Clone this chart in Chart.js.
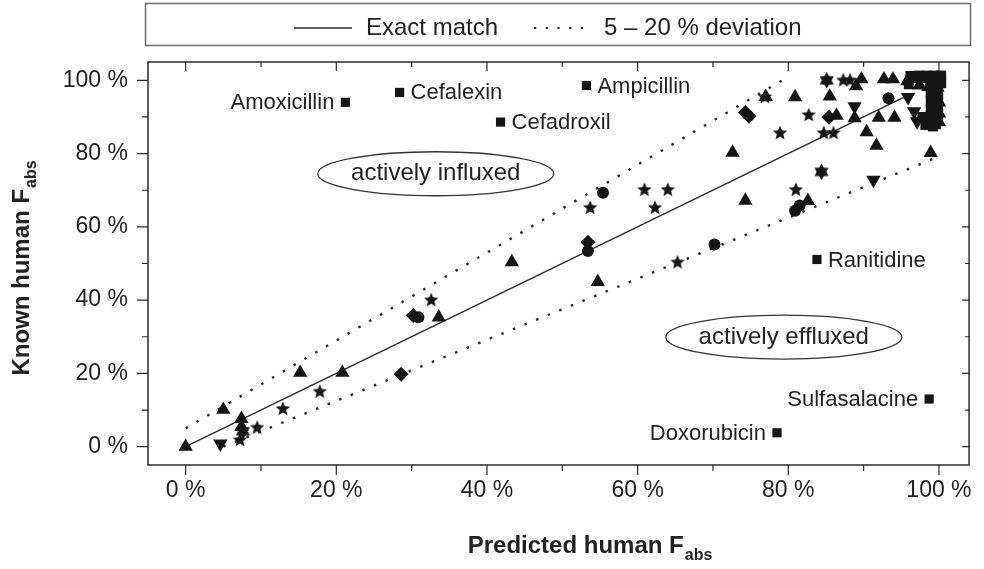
<!DOCTYPE html>
<html>
<head>
<meta charset="utf-8">
<script src="https://cdn.jsdelivr.net/npm/chart.js@4.4.1/dist/chart.umd.min.js"></script>
<style>
  html, body { margin: 0; padding: 0; background: #fff; }
  #wrap { width: 984px; height: 569px; }
</style>
</head>
<body>
<div id="wrap"><canvas id="c" width="984" height="569"></canvas></div>
<script>
const FONT = '"Liberation Sans", Arial, Helvetica, sans-serif';
const INK = '#151515';
const TEXT = '#222222';

// Predicted (x) vs known (y) human Fabs, in %, grouped by marker shape
const triUpX = [0, 5.0, 7.4, 7.4, 15.2, 20.8, 33.6, 43.3, 54.7, 72.6, 74.3, 77.0, 80.9, 82.6, 85.5, 86.4, 88.8, 90.4, 91.7, 92.0, 94.1, 98.9, 89.0, 89.7, 92.7, 93.9,
                95.8, 96.8, 98.0, 99.2, 100, 99.8, 98.6, 97.4, 99.5, 100, 99.3, 100, 99.0, 100, 98.5];
const triUpY = [0, 10.1, 7.6, 5.4, 20.2, 20.2, 35.3, 50.4, 45.0, 80.3, 67.2, 95.5, 95.4, 67.1, 95.6, 90.4, 89.7, 85.9, 82.2, 89.8, 89.8, 80.2, 98.4, 100.3, 100.3, 100.3,
                99.8, 100.3, 100.3, 100.3, 100, 98.0, 98.2, 98.6, 96.0, 94.0, 92.8, 91.0, 89.8, 88.6, 88.2];

const triDownX = [4.6, 88.8, 91.3, 95.9, 96.7, 97.1];
const triDownY = [0.8, 92.9, 72.8, 95.4, 91.5, 88.8];

const starX = [7.2, 9.5, 12.9, 17.8, 32.6, 53.7, 60.9, 62.3, 64.0, 65.3, 76.9, 78.9, 81.0, 82.7, 84.7, 86.0, 87.3, 88.2];
const starY = [1.8, 5.2, 10.3, 15.0, 40.0, 65.2, 70.1, 65.2, 70.1, 50.3, 95.4, 85.6, 70.1, 90.5, 85.6, 85.6, 100.0, 100.0];

const hexX = [7.6, 84.4, 85.1];
const hexY = [4.2, 75.0, 100.0];

const diamondX = [28.6, 30.2, 53.4, 74.3, 74.8, 85.4];
const diamondY = [19.8, 35.8, 55.8, 91.2, 90.2, 89.9];

const circleX = [30.9, 53.4, 55.4, 70.2, 80.9, 81.5, 93.3];
const circleY = [35.3, 53.4, 69.3, 55.2, 64.4, 65.8, 95.1];

// Unnamed squares in the high-absorption group
const squareX = [96.2, 97.3, 98.4, 99.4, 100.3, 96.0, 98.9, 99.9, 98.9, 99.9, 98.9, 99.9, 98.9, 99.9, 98.9, 97.8, 99.6, 100.3, 98.2, 99.2];
const squareY = [101.2, 101.3, 101.3, 101.3, 101.3, 98.9, 99.0, 97.2, 96.6, 95.2, 94.3, 93.0, 92.0, 90.6, 90.2, 90.0, 88.0, 99.2, 87.8, 87.4];

// Named outliers (squares) and the side their label sits on
const drugNames = ['Amoxicillin', 'Cefalexin', 'Cefadroxil', 'Ampicillin', 'Ranitidine', 'Sulfasalacine', 'Doxorubicin'];
const drugX = [21.2, 28.4, 41.8, 53.2, 83.8, 98.7, 78.5];
const drugY = [94.0, 96.7, 88.6, 98.6, 51.1, 13.0, 3.8];
const drugSide = ['left', 'right', 'right', 'right', 'right', 'left', 'left'];

// Reference lines
const exactX = [0, 96];
const exactY = [0, 96];
const upperX = [0, 79.2];
const upperY = [5, 100];
const lowerX = [5, 100];
const lowerY = [0, 79.2];

// Axis ticks
const tickValues = [0, 10, 20, 30, 40, 50, 60, 70, 80, 90, 100];
const labelledTicks = [0, 20, 40, 60, 80, 100];

// Region annotations (centre in data units)
const regionNames = ['actively influxed', 'actively effluxed'];
const regionX = [33.2, 79.4];
const regionY = [74.5, 29.9];

const legendNames = ['Exact match', '5 \u2013 20 % deviation'];

const pts = (xs, ys) => xs.map((x, i) => ({ x, y: ys[i] }));

function starGlyph(points, outer, inner) {
  const size = Math.ceil(outer * 2 + 2);
  const c = document.createElement('canvas');
  c.width = size; c.height = size;
  const g = c.getContext('2d');
  g.fillStyle = INK;
  g.beginPath();
  for (let i = 0; i < points * 2; i++) {
    const a = -Math.PI / 2 + i * Math.PI / points;
    const r = i % 2 ? inner : outer;
    const px = size / 2 + r * Math.cos(a), py = size / 2 + r * Math.sin(a);
    i ? g.lineTo(px, py) : g.moveTo(px, py);
  }
  g.closePath();
  g.fill();
  return c;
}
const star5 = starGlyph(5, 7.6, 3.4);
const star6 = starGlyph(6, 8.2, 4.8);

const marker = (data, style, radius, extra = {}) => Object.assign({
  type: 'scatter', data, pointStyle: style, pointRadius: radius, pointHoverRadius: radius,
  backgroundColor: INK, borderColor: INK, borderWidth: 0, order: 1
}, extra);

const refLine = (xs, ys, dash, width) => ({
  type: 'scatter', data: pts(xs, ys), showLine: true, pointRadius: 0,
  borderColor: '#2a2a2a', borderWidth: width, borderDash: dash, order: 5, fill: false
});

const frameTicks = {
  id: 'frameTicks',
  afterDraw(chart) {
    const { ctx, chartArea: a, scales: { x, y } } = chart;
    ctx.save();
    ctx.strokeStyle = '#2a2a2a';
    ctx.lineWidth = 1.5;
    ctx.strokeRect(a.left, a.top, a.right - a.left, a.bottom - a.top);
    ctx.lineWidth = 1.2;
    ctx.beginPath();
    tickValues.forEach(v => {
      const major = labelledTicks.includes(v);
      const px = x.getPixelForValue(v), py = y.getPixelForValue(v);
      // bottom & left: outward
      ctx.moveTo(px, a.bottom); ctx.lineTo(px, a.bottom + (major ? 10 : 6));
      ctx.moveTo(a.left, py); ctx.lineTo(a.left - (major ? 11 : 6), py);
      // top & right: inward
      ctx.moveTo(px, a.top); ctx.lineTo(px, a.top + (major ? 9 : 5));
      ctx.moveTo(a.right, py); ctx.lineTo(a.right - (major ? 7 : 4), py);
    });
    ctx.stroke();

    // axis titles with subscript
    const drawTitle = (main, sub, cx, cy, rot) => {
      ctx.save();
      ctx.translate(cx, cy);
      ctx.rotate(rot);
      ctx.fillStyle = TEXT;
      ctx.textBaseline = 'middle';
      ctx.font = 'bold 24px ' + FONT;
      const wm = ctx.measureText(main).width;
      ctx.font = 'bold 16px ' + FONT;
      const ws = ctx.measureText(sub).width;
      const start = -(wm + ws + 1) / 2;
      ctx.textAlign = 'left';
      ctx.font = 'bold 24px ' + FONT;
      ctx.fillText(main, start, 0);
      ctx.font = 'bold 16px ' + FONT;
      ctx.fillText(sub, start + wm + 1, 10);
      ctx.restore();
    };
    drawTitle('Predicted human F', 'abs', 590, 546, 0);
    drawTitle('Known human F', 'abs', 22, 268, -Math.PI / 2);

    // legend
    ctx.strokeStyle = '#6a6a6a';
    ctx.lineWidth = 1.5;
    ctx.strokeRect(145.5, 3.5, 825, 42);
    ctx.strokeStyle = '#2a2a2a';
    ctx.lineWidth = 1.3;
    ctx.beginPath(); ctx.moveTo(294, 28); ctx.lineTo(352, 28); ctx.stroke();
    ctx.lineWidth = 2.2;
    ctx.setLineDash([2.2, 9.5]);
    ctx.beginPath(); ctx.moveTo(534, 28); ctx.lineTo(592, 28); ctx.stroke();
    ctx.setLineDash([]);
    ctx.fillStyle = TEXT;
    ctx.font = '24px ' + FONT;
    ctx.textAlign = 'left';
    ctx.textBaseline = 'middle';
    ctx.fillText(legendNames[0], 366, 28);
    ctx.fillText(legendNames[1], 604, 28);
    ctx.restore();
  },
  afterDatasetsDraw(chart) {
    const { ctx, scales: { x, y } } = chart;
    ctx.save();
    // region ellipses
    ctx.strokeStyle = '#333';
    ctx.lineWidth = 1.3;
    ctx.fillStyle = TEXT;
    ctx.font = '24px ' + FONT;
    ctx.textAlign = 'center';
    ctx.textBaseline = 'middle';
    regionNames.forEach((name, i) => {
      const cx = x.getPixelForValue(regionX[i]), cy = y.getPixelForValue(regionY[i]);
      ctx.beginPath();
      ctx.ellipse(cx, cy, 118, 22, 0, 0, Math.PI * 2);
      ctx.stroke();
      ctx.fillText(name, cx, cy);
    });
    // drug labels, placed from the square markers
    const meta = chart.getDatasetMeta(chart.data.datasets.findIndex(d => d.label === 'drugs'));
    ctx.font = '22px ' + FONT;
    meta.data.forEach((pt, i) => {
      const left = drugSide[i] === 'left';
      ctx.textAlign = left ? 'right' : 'left';
      ctx.fillText(drugNames[i], pt.x + (left ? -11 : 11), pt.y + 1);
    });
    ctx.restore();
  }
};

new Chart(document.getElementById('c'), {
  type: 'scatter',
  data: {
    datasets: [
      refLine(exactX, exactY, [], 1.4),
      refLine(upperX, upperY, [2.5, 10], 2.4),
      refLine(lowerX, lowerY, [2.5, 10], 2.4),
      marker(pts(squareX, squareY), 'rect', 7),
      marker(pts(triUpX, triUpY), 'triangle', 8.3),
      marker(pts(triDownX, triDownY), 'triangle', 8.3, { rotation: 180 }),
      marker(pts(starX, starY), star5, 7),
      marker(pts(hexX, hexY), star6, 8),
      marker(pts(diamondX, diamondY), 'rectRot', 7.5),
      marker(pts(circleX, circleY), 'circle', 6),
      Object.assign(marker(pts(drugX, drugY), 'rect', 6.5), { label: 'drugs' })
    ]
  },
  options: {
    responsive: false,
    animation: false,
    devicePixelRatio: 1,
    layout: { padding: { top: 62, right: 12, left: 0, bottom: 0 } },
    plugins: { legend: { display: false }, tooltip: { enabled: false } },
    events: [],
    scales: {
      x: {
        type: 'linear', min: -5, max: 104,
        afterBuildTicks: s => { s.ticks = tickValues.map(v => ({ value: v })); },
        afterFit: s => { s.height = 104; },
        grid: { display: false, drawTicks: false },
        border: { display: false },
        ticks: {
          autoSkip: false, maxRotation: 0, padding: 12, color: TEXT,
          font: { family: FONT, size: 23 },
          callback: v => labelledTicks.includes(v) ? v + ' %' : ''
        }
      },
      y: {
        type: 'linear', min: -5, max: 105,
        afterBuildTicks: s => { s.ticks = tickValues.map(v => ({ value: v })); },
        afterFit: s => { s.width = 148; },
        grid: { display: false, drawTicks: false },
        border: { display: false },
        ticks: {
          autoSkip: false, padding: 20, color: TEXT,
          font: { family: FONT, size: 23 },
          callback: v => labelledTicks.includes(v) ? v + ' %' : ''
        }
      }
    }
  },
  plugins: [frameTicks]
});
</script>
</body>
</html>
